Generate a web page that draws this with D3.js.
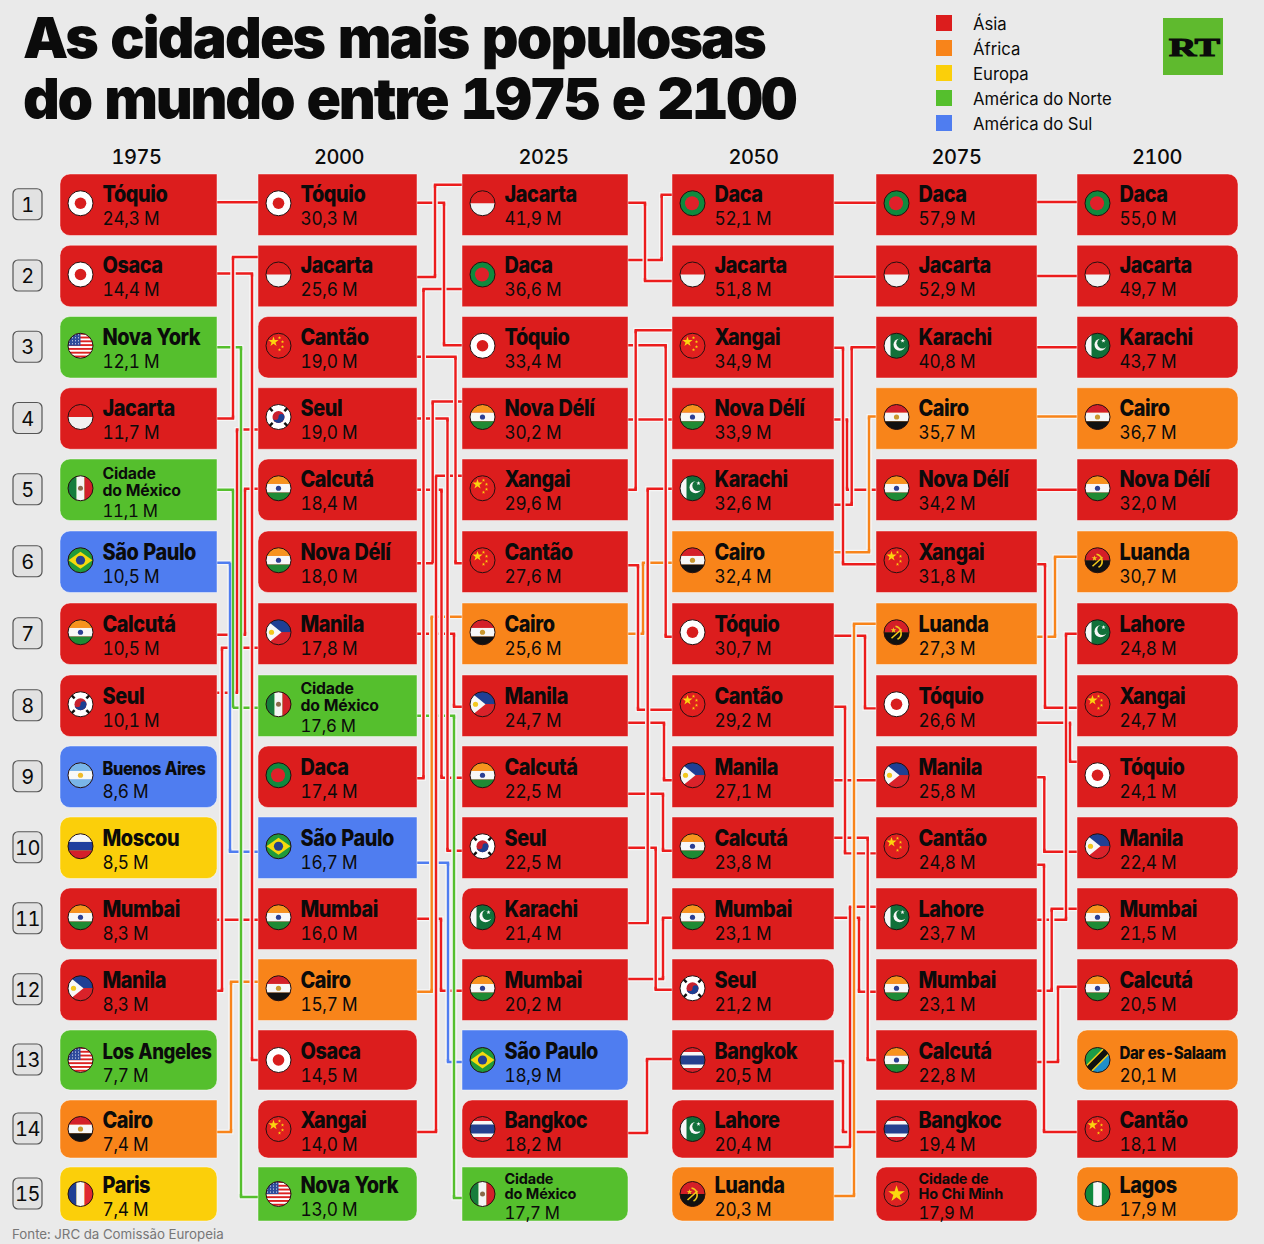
<!DOCTYPE html>
<html lang="pt"><head><meta charset="utf-8">
<script src="https://cdn.jsdelivr.net/npm/d3@7/dist/d3.min.js"></script>
<style>
html,body{margin:0;padding:0;background:#eaeaea}
svg{display:block}
text{font-family:Inter,"Noto Sans",sans-serif;fill:#0b0b0b;font-variant-numeric:tabular-nums}
</style></head><body><svg id="c" width="1264" height="1244"></svg>
<script>
// ---------- data ----------
const years = [1975, 2000, 2025, 2050, 2075, 2100];
const cities1975 = ["Tóquio","Osaca","Nova York","Jacarta","Cidade do México","São Paulo","Calcutá","Seul","Buenos Aires","Moscou","Mumbai","Manila","Los Angeles","Cairo","Paris"];
const values1975 = [24.3,14.4,12.1,11.7,11.1,10.5,10.5,10.1,8.6,8.5,8.3,8.3,7.7,7.4,7.4];
const cities2000 = ["Tóquio","Jacarta","Cantão","Seul","Calcutá","Nova Délí","Manila","Cidade do México","Daca","São Paulo","Mumbai","Cairo","Osaca","Xangai","Nova York"];
const values2000 = [30.3,25.6,19.0,19.0,18.4,18.0,17.8,17.6,17.4,16.7,16.0,15.7,14.5,14.0,13.0];
const cities2025 = ["Jacarta","Daca","Tóquio","Nova Délí","Xangai","Cantão","Cairo","Manila","Calcutá","Seul","Karachi","Mumbai","São Paulo","Bangkoc","Cidade do México"];
const values2025 = [41.9,36.6,33.4,30.2,29.6,27.6,25.6,24.7,22.5,22.5,21.4,20.2,18.9,18.2,17.7];
const cities2050 = ["Daca","Jacarta","Xangai","Nova Délí","Karachi","Cairo","Tóquio","Cantão","Manila","Calcutá","Mumbai","Seul","Bangkok","Lahore","Luanda"];
const values2050 = [52.1,51.8,34.9,33.9,32.6,32.4,30.7,29.2,27.1,23.8,23.1,21.2,20.5,20.4,20.3];
const cities2075 = ["Daca","Jacarta","Karachi","Cairo","Nova Délí","Xangai","Luanda","Tóquio","Manila","Cantão","Lahore","Mumbai","Calcutá","Bangkoc","Cidade de Ho Chi Minh"];
const values2075 = [57.9,52.9,40.8,35.7,34.2,31.8,27.3,26.6,25.8,24.8,23.7,23.1,22.8,19.4,17.9];
const cities2100 = ["Daca","Jacarta","Karachi","Cairo","Nova Délí","Luanda","Lahore","Xangai","Tóquio","Manila","Mumbai","Calcutá","Dar es-Salaam","Cantão","Lagos"];
const values2100 = [55.0,49.7,43.7,36.7,32.0,30.7,24.8,24.7,24.1,22.4,21.5,20.5,20.1,18.1,17.9];
const regions = ["Ásia","África","Europa","América do Norte","América do Sul"];
const regionColors = ["#dc1d1d","#f8841a","#fbcf0a","#55bf2d","#4f7df0"];
const lineColors = ["#ec1c1c","#f8841a","#fbcf0a","#55bf2d","#4f7df0"];
const africa = ["Cairo","Luanda","Dar es-Salaam","Lagos"];
const europe = ["Moscou","Paris"];
const northAmerica = ["Nova York","Cidade do México","Los Angeles"];
const southAmerica = ["São Paulo","Buenos Aires"];
const flagOf = {"Tóquio":"jp","Osaca":"jp","Nova York":"us","Los Angeles":"us","Jacarta":"id","Cidade do México":"mx","São Paulo":"br","Calcutá":"in","Mumbai":"in","Nova Délí":"in","Seul":"kr","Buenos Aires":"ar","Moscou":"ru","Manila":"ph","Cairo":"eg","Paris":"fr","Cantão":"cn","Xangai":"cn","Daca":"bd","Karachi":"pk","Lahore":"pk","Bangkoc":"th","Bangkok":"th","Luanda":"ao","Cidade de Ho Chi Minh":"vn","Dar es-Salaam":"tz","Lagos":"ng"};
const twoLine = {"Cidade do México":["Cidade","do México"],"Cidade de Ho Chi Minh":["Cidade de","Ho Chi Minh"]};
const smallNames = {"Buenos Aires":18.5,"Dar es-Salaam":17,"Los Angeles":21};
const columns = [cities1975,cities2000,cities2025,cities2050,cities2075,cities2100];
const columnValues = [values1975,values2000,values2025,values2050,values2075,values2100];

// ---------- routing of the connectors: [lane inside the gap, source offset, target offset] ----------
const routes = [
 {"Tóquio":[20,-2.5,-2.5],"Osaca":[35,-2.5,0],"Nova York":[24,0,3],"Jacarta":[16,0,-19],"Cidade do México":[16,0,2],"São Paulo":[13,1,4],"Calcutá":[28,1,-1],"Seul":[20,-13,11],"Mumbai":[20,1,1],"Manila":[5,1,14],"Cairo":[14,3,-8]},
 {"Tóquio":[27,-2,-2],"Jacarta":[18,1,-20],"Cantão":[38.5,9.5,1.5],"Seul":[30.5,0,3],"Calcutá":[24.5,0,1],"Nova Délí":[15.7,1.5,-17],"Manila":[37,0,1],"Cidade do México":[37,10,4],"Daca":[6.5,1.5,13],"São Paulo":[31,15,2],"Mumbai":[24,0,1],"Cairo":[14.7,2,-17],"Xangai":[19,3,-14]},
 {"Jacarta":[17,-2,5],"Daca":[33.7,-16,-10],"Tóquio":[37.7,-2,3],"Nova Délí":[20,1,1],"Xangai":[7.7,0,-17],"Cantão":[10,3.5,4],"Cairo":[15,0,1],"Manila":[36,17,3.5],"Calcutá":[35,17,3],"Seul":[27.7,0,0],"Karachi":[19.7,4.4,-1],"Mumbai":[35,-10.7,-1],"Bangkoc":[19,4,-1]},
 {"Daca":[20,-2,-2],"Jacarta":[20,0.7,0.7],"Xangai":[9,0.5,2.5],"Nova Délí":[13,1,0],"Karachi":[17.7,15,0],"Cairo":[35,-9.5,-2],"Tóquio":[31,2,2.6],"Cantão":[11,1,5.6],"Manila":[20,3.5,3.5],"Calcutá":[33.7,-10,0],"Mumbai":[25,-1,2],"Bangkok":[9,1,3],"Lahore":[16,18,-12],"Luanda":[20,2,-10]},
 {"Daca":[20,-2.7,-2.7],"Jacarta":[20,0,0],"Karachi":[20,0,0],"Cairo":[20,-2,-2],"Nova Délí":[20,0,0],"Xangai":[8,2.5,2],"Luanda":[18,3,-5],"Tóquio":[33,17,-15],"Manila":[7.3,0.5,4],"Cantão":[7,17,3],"Lahore":[29,1,0],"Mumbai":[14.7,1,-10],"Calcutá":[21,2,-3]}
];

// ---------- scales ----------
const xLeft = d3.scaleOrdinal(years,[60,258,462,672,876,1077]);
const xWidth = d3.scaleOrdinal(years,[157,159,166,162,161,161]);
const headerX = d3.scaleOrdinal(years,[136.5,339,543.5,753.5,956.5,1157]);
const rowTop = d3.scaleLinear([1,5,8,12,13,14,15],[174,459,675,959,1030,1100,1167]);
const rowH = d3.scaleLinear([1,12,13,14,15],[61.5,61.5,60,58,54]);
const regionScale = d3.scaleOrdinal(regions,regionColors);
const lineScale = d3.scaleOrdinal(regions,lineColors);
const regionOf = c => africa.includes(c)?"África":europe.includes(c)?"Europa":northAmerica.includes(c)?"América do Norte":southAmerica.includes(c)?"América do Sul":"Ásia";
const fmt = v => d3.format(".1f")(v).replace(".",",")+" M";
const centre = r => rowTop(r)+rowH(r)/2;
const same = (a,b)=>a===b||(/^Bangko/.test(a)&&/^Bangko/.test(b));

const svg = d3.select("#c");
svg.append("rect").attr("width",1264).attr("height",1244).attr("fill","#eaeaea");
const defs = svg.append("defs");
defs.append("clipPath").attr("id","fc").append("circle").attr("r",12.5);

// ---------- title, legend, logo, source ----------
const title = svg.append("text").style("font-weight",900).style("font-size","57px");
title.append("tspan").attr("x",23).attr("y",58).style("letter-spacing","-1.86px").text("As cidades mais populosas");
title.append("tspan").attr("x",23).attr("y",119).style("letter-spacing","-2.2px").text("do mundo entre 1975 e 2100");
const lg = svg.append("g").selectAll("g").data(regions).join("g")
  .attr("transform",(d,i)=>`translate(936,${15+i*25})`);
lg.append("rect").attr("width",16).attr("height",16).attr("fill",d=>regionScale(d));
lg.append("text").attr("x",37).attr("y",15).style("font-size","16.7px").text(d=>d);
svg.append("rect").attr("x",1163).attr("y",18).attr("width",60).attr("height",57).attr("fill","#5fba2e");
svg.append("text").attr("x",1169).attr("y",56).attr("textLength",51).attr("lengthAdjust","spacingAndGlyphs")
  .style("font-family","'Liberation Serif',serif").style("font-weight",700).style("font-size","25px")
  .attr("stroke","#0b0b0b").attr("stroke-width",1.2).text("RT");
svg.append("text").attr("x",12).attr("y",1239).style("font-size","13.3px").style("fill","#777").text("Fonte: JRC da Comissão Europeia");

// ---------- headers and rank badges ----------
svg.append("g").selectAll("text").data(years).join("text")
  .attr("x",y=>headerX(y)).attr("y",164).attr("text-anchor","middle")
  .style("font-size","20px").style("font-weight",500).style("letter-spacing","-.5px").text(y=>y);
const ranks = d3.range(1,16);
const badge = svg.append("g").selectAll("g").data(ranks).join("g")
  .attr("transform",r=>`translate(13,${centre(r)-16})`);
badge.append("rect").attr("width",29).attr("height",31).attr("rx",5).attr("fill","#e2e2e2").attr("stroke","#555").attr("stroke-width",1.2);
badge.append("text").attr("x",14.5).attr("y",23).attr("text-anchor","middle").style("font-size","20px").style("letter-spacing","-.5px").text(r=>r);

// ---------- connectors ----------
const links=[];
routes.forEach((route,g)=>{
  const gapL = xLeft(years[g])+xWidth(years[g]), gapR = xLeft(years[g+1]);
  columns[g].forEach((c,i)=>{
    const j = columns[g+1].findIndex(d=>same(d,c));
    if(j<0) return;
    const r = route[c] || route[columns[g+1][j]] || [20,0,0];
    links.push({c,gapL,gapR,lane:gapL+r[0],y0:centre(i+1)+r[1],y1:centre(j+1)+r[2]});
  });
});
const lineG = svg.append("g").attr("fill","none");
const pathOf = d => d3.line()([[d.gapL,d.y0],[d.lane,d.y0],[d.lane,d.y1],[d.gapR,d.y1]]);
links.forEach(d=>{
  lineG.append("path").attr("d",pathOf(d)).attr("stroke","#f6f6f6").attr("stroke-width",5);
  lineG.append("path").attr("d",pathOf(d)).attr("stroke",lineScale(regionOf(d.c))).attr("stroke-width",2.4);
});
links.filter(d=>Math.abs(d.y0-d.y1)>1).forEach(d=>{
  const top=Math.min(d.y0,d.y1), bot=Math.max(d.y0,d.y1);
  lineG.append("path").attr("d",d3.line()([[d.lane,top+3],[d.lane,bot-3]])).attr("stroke","#f6f6f6").attr("stroke-width",5);
});
links.filter(d=>Math.abs(d.y0-d.y1)>1).forEach(d=>{
  const top=Math.min(d.y0,d.y1), bot=Math.max(d.y0,d.y1);
  lineG.append("path").attr("d",d3.line()([[d.lane,top],[d.lane,bot]])).attr("stroke",lineScale(regionOf(d.c))).attr("stroke-width",2.4);
});

// ---------- flags ----------
const R=(g,x,y,w,h,f)=>g.append("rect").attr("x",x).attr("y",y).attr("width",w).attr("height",h).attr("fill",f);
const C=(g,x,y,r,f)=>g.append("circle").attr("cx",x).attr("cy",y).attr("r",r).attr("fill",f);
const S=(g,x,y,s,f)=>g.append("path").attr("d",d3.symbol(d3.symbolStar,s)()).attr("transform",`translate(${x},${y})`).attr("fill",f);
const flags={
 jp:g=>{R(g,-13,-13,26,26,"#fff");C(g,0,0,5.8,"#d81e1e");},
 id:g=>{R(g,-13,-13,26,13,"#dd2020");R(g,-13,0,26,13,"#f2f2f2");},
 us:g=>{R(g,-13,-13,26,26,"#fff");d3.range(7).forEach(i=>R(g,-13,-13+i*3.8,26,1.9,"#d22"));R(g,-13,-13,13,13,"#2f4b9c");
   d3.range(4).forEach(a=>d3.range(4).forEach(b=>C(g,-11+a*3,-11+b*3,.6,"#fff")));},
 mx:g=>{R(g,-13,-13,9,26,"#167d3c");R(g,-4,-13,8,26,"#f5f5f5");R(g,4,-13,9,26,"#d3202a");C(g,0,0,2.5,"#8a6a4a");},
 br:g=>{R(g,-13,-13,26,26,"#1f9a3a");g.append("path").attr("d","M-12,0L0,-8.5L12,0L0,8.5Z").attr("fill","#f4d90e");C(g,0,0,4.6,"#24408f");},
 in:g=>{R(g,-13,-13,26,8.7,"#f7931e");R(g,-13,-4.3,26,8.6,"#f7f7f7");R(g,-13,4.3,26,8.7,"#1f8a34");C(g,0,0,2.6,"#2b3f93");},
 ph:g=>{R(g,-13,-13,26,13,"#1f3f94");R(g,-13,0,26,13,"#d9222a");g.append("path").attr("d","M-13,-13L3,0L-13,13Z").attr("fill","#f8f8f8");C(g,-7,0,2.6,"#f2c81e");},
 kr:g=>{R(g,-13,-13,26,26,"#fff");C(g,0,0,6,"#c8202e");g.append("path").attr("d","M-6,0A6,6 0 0 0 6,0A3,3 0 0 0 0,0A3,3 0 0 1 -6,0Z").attr("fill","#1c3f92");
   [[-8,-8,45],[8,-8,-45],[-8,8,-45],[8,8,45]].forEach(p=>R(g,-3,-1.2,6,2.4,"#111").attr("transform",`translate(${p[0]},${p[1]}) rotate(${p[2]})`));},
 ar:g=>{R(g,-13,-13,26,8.7,"#79b5e8");R(g,-13,-4.3,26,8.6,"#f8f8f8");R(g,-13,4.3,26,8.7,"#79b5e8");C(g,0,0,2.6,"#efbb2b");},
 ru:g=>{R(g,-13,-13,26,8.7,"#f7f7f7");R(g,-13,-4.3,26,8.6,"#1f3f9e");R(g,-13,4.3,26,8.7,"#d4202a");},
 fr:g=>{R(g,-13,-13,9,26,"#1f3f94");R(g,-4,-13,8,26,"#f7f7f7");R(g,4,-13,9,26,"#e02830");},
 eg:g=>{R(g,-13,-13,26,8.7,"#d4202a");R(g,-13,-4.3,26,8.6,"#f7f7f7");R(g,-13,4.3,26,8.7,"#111");C(g,0,0,2.6,"#c9982e");},
 cn:g=>{R(g,-13,-13,26,26,"#e01f1f");S(g,-5,-4,32,"#fbd40f");[[1,-8],[4,-4],[4,1],[1,4]].forEach(p=>S(g,p[0],p[1],3.5,"#fbd40f"));},
 bd:g=>{R(g,-13,-13,26,26,"#0f8a3e");C(g,-.5,0,7,"#e0202a");},
 pk:g=>{R(g,-13,-13,26,26,"#11703a");R(g,-13,-13,7,26,"#f7f7f7");C(g,3,-1,6,"#f7f7f7");C(g,5,-2.5,5.2,"#11703a");S(g,6,-5,6,"#f7f7f7");},
 th:g=>{R(g,-13,-13,26,26,"#d4202a");R(g,-13,-8,26,16,"#f7f7f7");R(g,-13,-4.5,26,9,"#25408f");},
 ao:g=>{R(g,-13,-13,26,13,"#d41f27");R(g,-13,0,26,13,"#111");g.append("path").attr("d","M-5,6L5,-3M-1,-6A7,7 0 0 1 1,7").attr("fill","none").attr("stroke","#f3c91a").attr("stroke-width",1.6);S(g,-3,-2,10,"#f3c91a");},
 vn:g=>{R(g,-13,-13,26,26,"#db2222");S(g,0,0,85,"#fbd80f");},
 tz:g=>{R(g,-13,-13,26,26,"#1a9c48");g.append("path").attr("d","M13,-13L13,13L-13,13Z").attr("fill","#1f8fc9");
   g.append("path").attr("d","M-13,13L13,-13").attr("stroke","#f3d11a").attr("stroke-width",9);g.append("path").attr("d","M-13,13L13,-13").attr("stroke","#111").attr("stroke-width",6);},
 ng:g=>{R(g,-13,-13,26,26,"#0f8a3e");R(g,-4.3,-13,8.6,26,"#f7f7f7");}
};

// ---------- boxes ----------
const boxPath = (x,y,w,h,rl,rr)=>{
  const p=d3.path();
  p.moveTo(x+rl,y);p.lineTo(x+w-rr,y);
  if(rr)p.arcTo(x+w,y,x+w,y+rr,rr);
  p.lineTo(x+w,y+h-rr);
  if(rr)p.arcTo(x+w,y+h,x+w-rr,y+h,rr);
  p.lineTo(x+rl,y+h);
  if(rl)p.arcTo(x,y+h,x,y+h-rl,rl);
  p.lineTo(x,y+rl);
  if(rl)p.arcTo(x,y,x+rl,y,rl);
  p.closePath();return p.toString();
};
const NAME_SX=.885, VALUE_SX=.96;
const put=(s,x,y,sx,t)=>s.append("text").attr("transform",`translate(${x},${y}) scale(${sx},1)`).text(t);
years.forEach((yr,ci)=>{
  const rows = columns[ci].map((c,i)=>({c,v:columnValues[ci][i],r:i+1}));
  const g = svg.append("g").selectAll("g").data(rows).join("g");
  g.append("path").attr("d",d=>{
    const hasPrev = ci>0 && columns[ci-1].some(e=>same(e,d.c)) && !(yr===2000&&d.c==="Calcutá");
    const hasNext = ci<5 && columns[ci+1].some(e=>same(e,d.c));
    return boxPath(xLeft(yr),rowTop(d.r),xWidth(yr),rowH(d.r),hasPrev?0:10,hasNext?0:10);
  }).attr("fill",d=>regionScale(regionOf(d.c))).attr("stroke","#fff").attr("stroke-opacity",.45).attr("stroke-width",1);
  const fl = g.append("g").attr("transform",d=>`translate(${xLeft(yr)+20.5},${rowTop(d.r)+rowH(d.r)/2-(d.r>12?0:1.5)})`);
  const inner = fl.append("g").attr("clip-path","url(#fc)");
  inner.each(function(d){flags[flagOf[d.c]](d3.select(this));});
  fl.append("circle").attr("r",12.5).attr("fill","none").attr("stroke","#241010").attr("stroke-width",1);
  g.each(function(d){
    const s=d3.select(this), tx=xLeft(yr)+42.5, top=rowTop(d.r);
    const off = d.r<6 ? 0 : d.r<=13 ? 1 : d.r===14 ? 0 : -2;
    if(twoLine[d.c]){
      const low = d.r===15, o3 = d.r===8 ? -1 : 0;
      twoLine[d.c].forEach((t,k)=>put(s,tx,low?top+16.5+k*15:top+o3+19.5+k*17,1,t)
        .style("font-size",low?"14.5px":"15.8px").style("font-weight",700).style("letter-spacing","-.2px"));
      put(s,tx,low?top+52:top+o3+57.5,VALUE_SX,fmt(d.v)).style("font-size","17.5px").style("letter-spacing","-.3px");
    } else {
      put(s,tx,top+off+28,NAME_SX,d.c).style("font-size",(smallNames[d.c]||22.5)+"px").style("font-weight",800).style("letter-spacing","-.5px");
      put(s,tx,top+off+51,VALUE_SX,fmt(d.v)).style("font-size","18px").style("letter-spacing","-.3px");
    }
  });
});
</script></body></html>
